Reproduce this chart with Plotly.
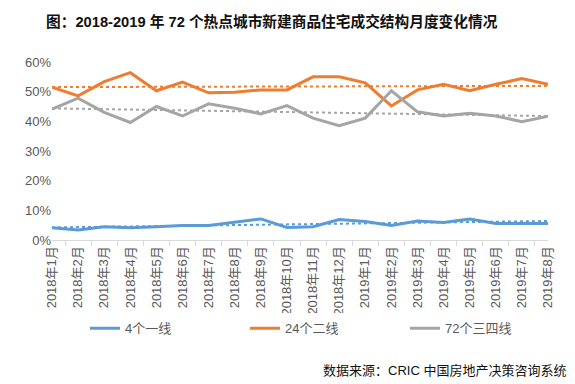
import numpy as np
import plotly.graph_objects as go

months = ["2018年1月", "2018年2月", "2018年3月", "2018年4月", "2018年5月", "2018年6月",
          "2018年7月", "2018年8月", "2018年9月", "2018年10月", "2018年11月", "2018年12月",
          "2019年1月", "2019年2月", "2019年3月", "2019年4月", "2019年5月", "2019年6月",
          "2019年7月", "2019年8月"]

tier1 = [0.041, 0.034, 0.045, 0.041, 0.045, 0.049, 0.049, 0.059, 0.071, 0.042,
         0.045, 0.069, 0.062, 0.049, 0.064, 0.059, 0.071, 0.056, 0.056, 0.056]
tier2 = [0.515, 0.486, 0.534, 0.564, 0.503, 0.532, 0.496, 0.498, 0.506, 0.506,
         0.550, 0.550, 0.530, 0.452, 0.506, 0.525, 0.503, 0.525, 0.544, 0.525]
tier3 = [0.441, 0.478, 0.430, 0.396, 0.450, 0.418, 0.459, 0.444, 0.425, 0.453,
         0.411, 0.385, 0.411, 0.503, 0.432, 0.418, 0.427, 0.418, 0.399, 0.417]

names = ["4个一线", "24个二线", "72个三四线"]
colors = ["#5B9BD5", "#ED7D31", "#A5A5A5"]
series = [tier1, tier2, tier3]

FONT = "Liberation Sans, Arial, Noto Sans CJK SC, sans-serif"

# the page body has an 8px margin, so the figure is drawn 8px in from the corner
OFF = 8
W, H = 575 - OFF, 384 - OFF

fig = go.Figure()
idx = np.arange(len(months))
for vals, name, col in zip(series, names, colors):
    fig.add_trace(go.Scatter(x=months, y=vals, mode="lines", name=name,
                             line=dict(color=col, width=3)))
for vals, name, col in zip(series, names, colors):
    k, b = np.polyfit(idx, np.array(vals), 1)
    trend = k * idx + b
    fig.add_trace(go.Scatter(x=months, y=trend, mode="lines", showlegend=False,
                             hoverinfo="skip",
                             line=dict(color=col, width=2, dash="dot")))

fig.update_layout(
    width=W, height=H,
    margin=dict(l=52 - OFF, r=27, t=62 - OFF, b=143.5, autoexpand=False),
    paper_bgcolor="white", plot_bgcolor="white",
    font=dict(family=FONT, size=13, color="#595959"),
    title=dict(text="<b>图：2018-2019 年 72 个热点城市新建商品住宅成交结构月度变化情况</b>",
               xref="container", yref="container", x=(46 - OFF) / W, xanchor="left",
               y=1 - (22 - OFF) / H, yanchor="middle",
               font=dict(family=FONT, size=14.7, color="#111111")),
    xaxis=dict(type="category", tickangle=-90, showgrid=False, showline=True,
               automargin=False,
               linecolor="#D9D9D9", linewidth=1, ticks="outside", tickson="boundaries",
               ticklen=5, tickcolor="#D9D9D9", tickfont=dict(size=13, color="#595959")),
    yaxis=dict(range=[0, 0.6], dtick=0.1, tickformat=".0%", showgrid=False,
               automargin=False,
               zeroline=False, showline=False, tickfont=dict(size=13, color="#595959")),
    legend=dict(orientation="h", x=(85 - 52) / 496, xanchor="left",
                y=(240.5 - 314) / 178.5, yanchor="top",
                entrywidth=115, entrywidthmode="pixels",
                font=dict(size=13, color="#595959")),
    annotations=[dict(text="数据来源：CRIC 中国房地产决策咨询系统", xref="paper", yref="paper",
                      x=(568 - 52) / 496, y=(240.5 - 371) / 178.5, xanchor="right",
                      yanchor="middle", showarrow=False,
                      font=dict(family=FONT, size=13, color="#111111"))],
)

fig.write_html("out.html")
